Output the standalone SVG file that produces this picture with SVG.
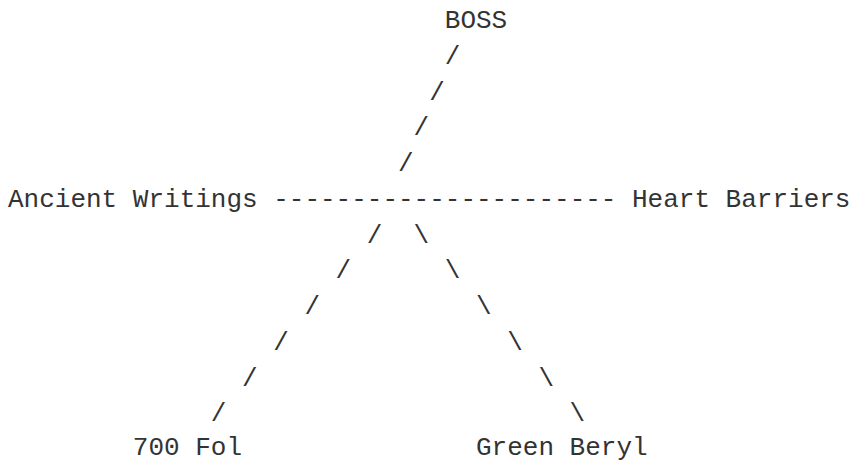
<svg xmlns="http://www.w3.org/2000/svg" width="852" height="463" viewBox="0 0 852 463">
<style>
text { font-family: "Liberation Mono", "Courier New", monospace; font-size: 26px; fill: #333; white-space: pre; }
</style>
<rect width="852" height="463" fill="#ffffff"/>
<g id="connectors">
<text x="444.8" y="63.75">/</text>
<text x="429.2" y="99.5">/</text>
<text x="413.6" y="135.25">/</text>
<text x="398" y="171">/</text>
<text x="273.2" y="206.75">----------------------</text>
<text x="366.8" y="242.5">/</text>
<text x="413.6" y="242.5">\</text>
<text x="335.6" y="278.25">/</text>
<text x="444.8" y="278.25">\</text>
<text x="304.4" y="314">/</text>
<text x="476" y="314">\</text>
<text x="273.2" y="349.75">/</text>
<text x="507.2" y="349.75">\</text>
<text x="242" y="385.5">/</text>
<text x="538.4" y="385.5">\</text>
<text x="210.8" y="421.25">/</text>
<text x="569.6" y="421.25">\</text>
</g>
<g id="node-boss"><text x="444.8" y="28">BOSS</text></g>
<g id="node-ancient-writings"><text x="8" y="206.75">Ancient Writings</text></g>
<g id="node-heart-barriers"><text x="632" y="206.75">Heart Barriers</text></g>
<g id="node-700-fol"><text x="132.8" y="455">700 Fol</text></g>
<g id="node-green-beryl"><text x="476" y="455">Green Beryl</text></g>
</svg>
